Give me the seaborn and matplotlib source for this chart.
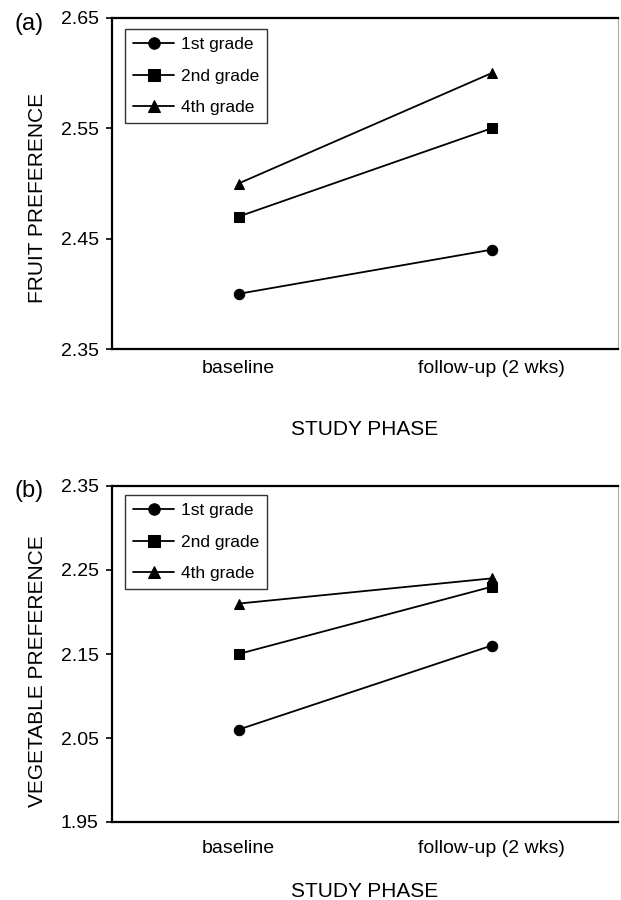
import pandas as pd
import matplotlib
matplotlib.use('Agg')
import matplotlib.pyplot as plt
import seaborn as sns

# data
phases = ['baseline', 'follow-up (2 wks)']
grades = ['1st grade', '2nd grade', '4th grade']

fruit_1st = [2.40, 2.44]
fruit_2nd = [2.47, 2.55]
fruit_4th = [2.50, 2.60]

veg_1st = [2.06, 2.16]
veg_2nd = [2.15, 2.23]
veg_4th = [2.21, 2.24]

fruit_ticks = [2.35, 2.45, 2.55, 2.65]
veg_ticks = [1.95, 2.05, 2.15, 2.25, 2.35]


def make_df(series):
    rows = []
    for grade, vals in zip(grades, series):
        for phase, v in zip(phases, vals):
            rows.append({'phase': phase, 'grade': grade, 'value': v})
    return pd.DataFrame(rows)


fruit = make_df([fruit_1st, fruit_2nd, fruit_4th])
veg = make_df([veg_1st, veg_2nd, veg_4th])

sns.set_style('white')
plt.rcParams['font.family'] = ['Liberation Sans', 'DejaVu Sans']
plt.rcParams['text.color'] = 'black'
plt.rcParams['axes.labelcolor'] = 'black'
plt.rcParams['xtick.color'] = 'black'
plt.rcParams['ytick.color'] = 'black'

fig = plt.figure(figsize=(6.21, 9), dpi=100)
ax1 = fig.add_axes([112 / 621, 1 - 349 / 900, 506 / 621, 331 / 900])
ax2 = fig.add_axes([112 / 621, 1 - 822 / 900, 506 / 621, 336 / 900])

markers = {'1st grade': 'o', '2nd grade': 's', '4th grade': '^'}
palette = {g: 'black' for g in grades}


def draw(ax, df, ticks, ylabel, ylab_y, tickpad, xlab_y, leg_top):
    sns.lineplot(data=df, x='phase', y='value', hue='grade', style='grade',
                 markers=markers, dashes=False, palette=palette, sort=False,
                 markersize=7.5, linewidth=1.3, markeredgecolor='black', ax=ax)
    ax.set_xlim(-0.5, 1.5)
    ax.set_ylim(ticks[0], ticks[-1])
    ax.set_yticks(ticks)
    ax.set_yticklabels([f'{t:.2f}' for t in ticks])
    ax.tick_params(axis='y', direction='out', length=4.5, width=1.2,
                   left=True, pad=5, labelsize=14, color='black')
    ax.tick_params(axis='x', length=0, pad=tickpad, labelsize=14)
    for s in ['left', 'top', 'bottom']:
        ax.spines[s].set_color('black')
        ax.spines[s].set_linewidth(1.6)
    ax.spines['right'].set_color('#aaaaaa')
    ax.spines['right'].set_linewidth(0.8)
    ax.set_xlabel('STUDY PHASE', fontsize=15)
    ax.xaxis.set_label_coords(0.5, xlab_y)
    ax.set_ylabel(ylabel, fontsize=15)
    ax.yaxis.set_label_coords(-0.128, ylab_y)
    handles, labels = ax.get_legend_handles_labels()
    ax.get_legend().remove()
    leg = ax.legend(handles, labels, loc='upper left',
                    bbox_to_anchor=(13 / 506, leg_top), borderaxespad=0,
                    fontsize=12.5, frameon=True, fancybox=False,
                    edgecolor='black', handlelength=2.4, handletextpad=0.4,
                    labelspacing=0.95, borderpad=0.45, markerscale=1.1)
    leg.get_frame().set_linewidth(1.0)


draw(ax1, fruit, fruit_ticks, 'FRUIT PREFERENCE', 0.456, 8, -71 / 331, 1 - 11 / 331)
draw(ax2, veg, veg_ticks, 'VEGETABLE PREFERENCE', 0.449, 13, -60 / 336, 1 - 9 / 336)

fig.text(15 / 621, 1 - 24 / 900, '(a)', fontsize=17, va='center', ha='left')
fig.text(15 / 621, 1 - 491 / 900, '(b)', fontsize=17, va='center', ha='left')

fig.savefig('out.png', dpi=100)
